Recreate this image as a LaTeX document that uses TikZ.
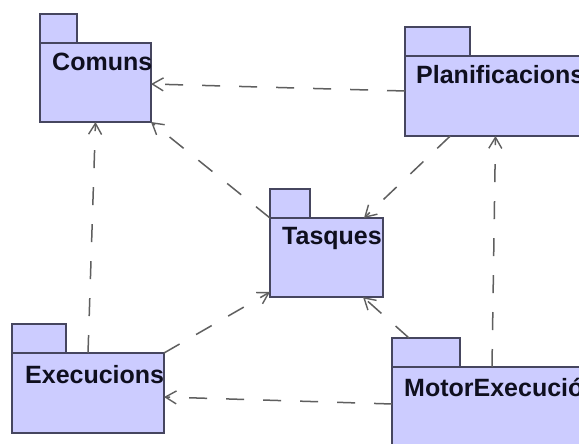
\documentclass[tikz,border=0pt]{standalone}
\usepackage{fontspec}
\setmainfont{Liberation Sans}
\usetikzlibrary{arrows.meta,calc}
\definecolor{pkgfill}{RGB}{204,204,255}
\definecolor{pkgline}{RGB}{70,70,95}
\definecolor{deparrow}{RGB}{95,95,95}
\definecolor{pkgtext}{RGB}{15,15,30}
\begin{document}
\begin{tikzpicture}[x=1pt,y=-1pt,
  pkgbody/.style={draw=pkgline, fill=pkgfill, line width=1.3pt, anchor=north west,
                  inner sep=0pt, outer sep=0pt},
  pkgtab/.style={pkgbody, anchor=south west},
  pkglabel/.style={anchor=west, inner sep=0pt, text=pkgtext,
                   font=\fontsize{25}{29}\selectfont\bfseries},
  dep/.style={draw=deparrow, line width=1.5pt, dash pattern=on 18pt off 19pt,
              -{Straight Barb[length=11pt,width=13pt,line width=1.4pt]}}
]
\clip (0,0) rectangle (579,444);
\fill[white] (0,0) rectangle (579,444);

% packages: body, tab on top of its upper-left corner, name
\node[pkgbody, minimum width=111pt, minimum height=79pt] (comuns) at (40,43) {};
\node[pkgtab, minimum width=37pt, minimum height=29pt] (comunsTab) at (comuns.north west) {};
\node[pkglabel] (comunsLabel) at (52,62) {Comuns};

\node[pkgbody, minimum width=181pt, minimum height=80pt] (plan) at (405,56) {};
\node[pkgtab, minimum width=65pt, minimum height=29pt] (planTab) at (plan.north west) {};
\node[pkglabel] (planLabel) at (416,75) {Planificacions};

\node[pkgbody, minimum width=113pt, minimum height=79pt] (tasques) at (270,218) {};
\node[pkgtab, minimum width=40pt, minimum height=29pt] (tasquesTab) at (tasques.north west) {};
\node[pkglabel] (tasquesLabel) at (282,238) {Tasques};

\node[pkgbody, minimum width=152pt, minimum height=80pt] (exec) at (12,353) {};
\node[pkgtab, minimum width=54pt, minimum height=29pt] (execTab) at (exec.north west) {};
\node[pkglabel] (execLabel) at (25,375) {Execucions};

\node[pkgbody, minimum width=200pt, minimum height=90pt] (motor) at (392,367) {};
\node[pkgtab, minimum width=68pt, minimum height=29pt] (motorTab) at (motor.north west) {};
\node[pkglabel] (motorLabel) at (404,387) {MotorExecució};

% dependencies
\draw[dep] ($(plan.west)+(0,-5)$) -- ($(comuns.east)+(0,1.5)$);
\draw[dep] (tasques.north west) -- (comuns.south east);
\draw[dep] (exec.north) -- (comuns.south);
\draw[dep] ($(plan.south west)!0.25!(plan.south east)$) -- ($(tasques.north east)+(-19,0)$);
\draw[dep] (exec.north east) -- ($(tasques.south west)+(0,-5)$);
\draw[dep] ($(motorTab.north west)!0.25!(motorTab.north east)$) -- ($(tasques.south east)+(-20,0)$);
\draw[dep] (motor.north) -- (plan.south);
\draw[dep] ($(motor.north west)+(0,37)$) -- ($(exec.east)+(0,4)$);
\end{tikzpicture}
\end{document}
